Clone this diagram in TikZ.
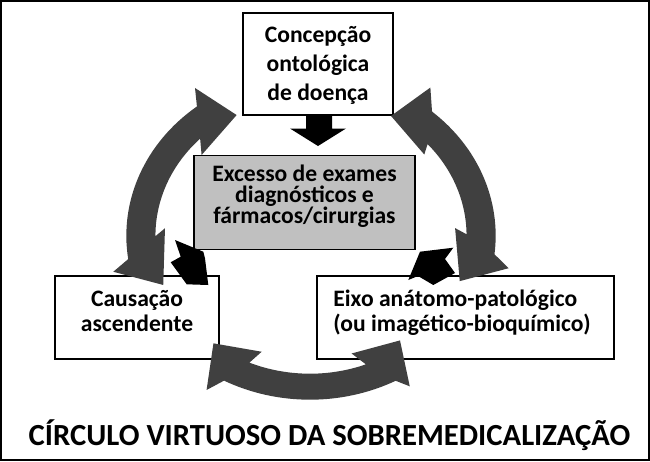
\documentclass[tikz,border=0pt]{standalone}
\usepackage{fontspec}
\setmainfont{Carlito}
\definecolor{arcgray}{HTML}{404040}
\definecolor{boxgray}{HTML}{C0C0C0}
\begin{document}
\setlength{\lineskiplimit}{-50pt}
\begin{tikzpicture}[x=1pt,y=-1pt,
  box/.style={draw=black, line width=1.6pt, fill=white, rectangle, inner sep=0pt,
    text depth=5pt},
  boxfont/.style={font=\fontsize{23.6}{#1}\selectfont\bfseries},
  bigarrow/.style={fill=arcgray, draw=none},
  blkarrow/.style={fill=black, draw=none}]
\useasboundingbox (0,0) rectangle (650,461);
\draw[line width=2pt] (1,1) rectangle (649,460);

% boxes
\node[box, boxfont=28.7, align=center, minimum width=150pt, minimum height=102pt,
  text height=77pt] (top) at (318,64) {Concepção\\ontológica\\de doença};
\node[box, boxfont=21.3, fill=boxgray, align=center, minimum width=221pt, minimum height=94pt,
  text height=47.6pt] (mid) at (304.5,202.6) {Excesso de exames\\diagnósticos e\\fármacos/cirurgias};
\node[box, boxfont=25.7, align=center, minimum width=164pt, minimum height=83pt,
  text height=33.4pt] (left) at (137,317.5) {Causação\\ascendente};
\node[box, boxfont=25.7, align=left, minimum width=297pt, minimum height=83pt,
  text height=33.4pt] (right) at (465.5,317.5) {Eixo anátomo-patológico\\(ou imagético-bioquímico)\hspace*{7pt}};

% title
\node[font=\fontsize{30.7}{36}\selectfont\bfseries, anchor=base, inner sep=0pt] (title)
  at (329.5,445) {CÍRCULO VIRTUOSO DA SOBREMEDICALIZAÇÃO};

% big curved double arrows
\begin{scope}[shift={(310,235.7)}, xscale=1.12, yscale=-1]
  \fill[bigarrow] (128.0:164) arc[start angle=128.0, end angle=188.2, radius=164]
    -- (191.6:179.3) -- (200.6:140) -- (176.7:129.7) -- (180.2:138)
    arc[start angle=180.2, end angle=135.3, radius=138]
    -- (140.2:126) -- (118.5:137.3) -- (124.8:179.9) -- cycle;
  \fill[bigarrow] (242.1:164) arc[start angle=242.1, end angle=297.8, radius=164]
    -- (300.6:175) -- (307.5:132) -- (287.5:123.5) -- (291.2:138)
    arc[start angle=291.2, end angle=246.9, radius=138]
    -- (249.6:123.8) -- (231.3:137.9) -- (239.1:179.8) -- cycle;
\end{scope}
\begin{scope}[shift={(312,235.7)}, xscale=1.12, yscale=-1]
  \fill[bigarrow] (49.2:164) arc[start angle=49.2, end angle=-6.5, radius=164]
    -- (-10.5:178.5) -- (-19:139.5) -- (3.4:128) -- (0.6:138)
    arc[start angle=0.6, end angle=41.6, radius=138]
    -- (39:129) -- (59.5:139) -- (54.5:182) -- cycle;
\end{scope}

% black block arrows
\fill[blkarrow] (306,115) -- (332,115) -- (332,128.5) -- (346,128.5) -- (318,146)
  -- (290,128.5) -- (306,128.5) -- cycle;
\fill[blkarrow] (175,240) -- (203.3,251.7) -- (205,258.3) -- (208.3,285)
  -- (186.7,284.3) -- (170.7,262.3) -- (180.7,256.7) -- cycle;
\fill[blkarrow] (420,251.7) -- (453.3,247.7) -- (445,259) -- (455,273)
  -- (433.3,285) -- (418,276) -- (408.3,280) -- cycle;
\end{tikzpicture}
\end{document}
